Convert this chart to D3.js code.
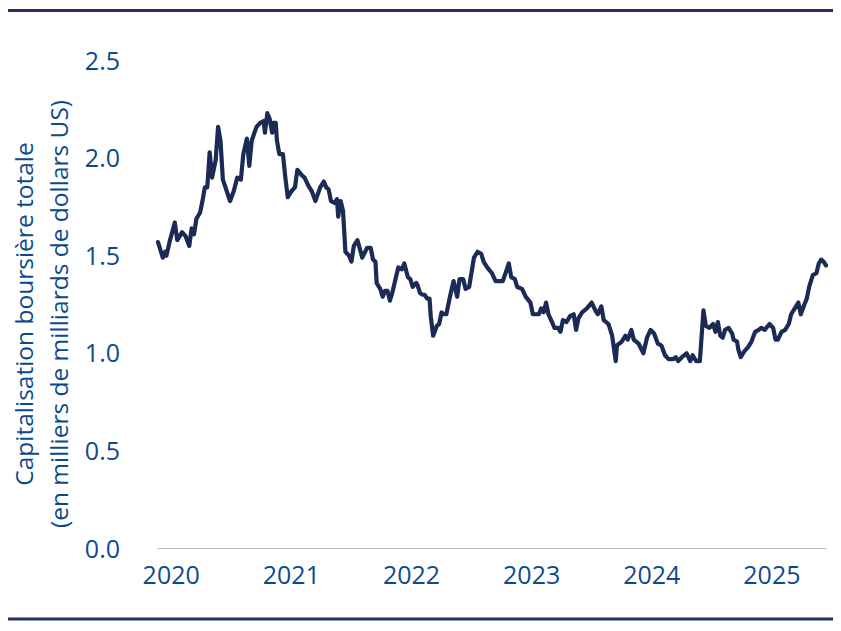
<!DOCTYPE html>
<meta charset="utf-8">
<style>
    body { margin: 0; background: #fff; }
    text { font-family: "Open Sans", sans-serif; fill: #0c4a8e; }
</style>
<body>

<svg width="841" height="631"></svg>

<script src="https://cdn.jsdelivr.net/npm/d3@7/dist/d3.min.js"></script>

<script>

    var years = [
        2019.89, 2019.93, 2019.95, 2019.96, 2019.99, 2020.03, 2020.05, 2020.09, 2020.12, 2020.15,
        2020.17, 2020.19, 2020.21, 2020.24, 2020.26, 2020.28, 2020.30, 2020.32, 2020.34, 2020.37,
        2020.39, 2020.41, 2020.43, 2020.49, 2020.52, 2020.55, 2020.58, 2020.60, 2020.63, 2020.65,
        2020.67, 2020.71, 2020.74, 2020.77, 2020.78, 2020.80, 2020.82, 2020.84, 2020.85, 2020.87,
        2020.88, 2020.90, 2020.93, 2020.95, 2020.97, 2021.00, 2021.03, 2021.05, 2021.09, 2021.11,
        2021.14, 2021.17, 2021.20, 2021.24, 2021.27, 2021.29, 2021.31, 2021.33, 2021.36, 2021.38,
        2021.39, 2021.41, 2021.43, 2021.45, 2021.48, 2021.50, 2021.52, 2021.55, 2021.59, 2021.63,
        2021.66, 2021.68, 2021.70, 2021.71, 2021.74, 2021.76, 2021.78, 2021.80, 2021.82, 2021.84,
        2021.89, 2021.92, 2021.94, 2021.97, 2021.99, 2022.01, 2022.04, 2022.05, 2022.07, 2022.09,
        2022.11, 2022.13, 2022.15, 2022.16, 2022.18, 2022.21, 2022.23, 2022.25, 2022.27, 2022.29,
        2022.32, 2022.35, 2022.38, 2022.40, 2022.43, 2022.45, 2022.48, 2022.52, 2022.55, 2022.58,
        2022.60, 2022.63, 2022.67, 2022.70, 2022.74, 2022.76, 2022.81, 2022.83, 2022.86, 2022.88,
        2022.92, 2022.95, 2022.99, 2023.01, 2023.06, 2023.08, 2023.10, 2023.12, 2023.14, 2023.17,
        2023.19, 2023.22, 2023.24, 2023.26, 2023.29, 2023.32, 2023.35, 2023.37, 2023.39, 2023.42,
        2023.46, 2023.50, 2023.53, 2023.55, 2023.58, 2023.60, 2023.64, 2023.67, 2023.70, 2023.71,
        2023.75, 2023.78, 2023.80, 2023.83, 2023.85, 2023.89, 2023.93, 2023.96, 2023.99, 2024.02,
        2024.05, 2024.08, 2024.11, 2024.14, 2024.18, 2024.20, 2024.22, 2024.25, 2024.29, 2024.32,
        2024.34, 2024.37, 2024.40, 2024.43, 2024.45, 2024.48, 2024.51, 2024.53, 2024.55, 2024.57,
        2024.59, 2024.61, 2024.64, 2024.67, 2024.68, 2024.71, 2024.72, 2024.74, 2024.77, 2024.80,
        2024.83, 2024.86, 2024.89, 2024.91, 2024.94, 2024.98, 2025.01, 2025.03, 2025.05, 2025.08,
        2025.11, 2025.14, 2025.16, 2025.19, 2025.22, 2025.24, 2025.27, 2025.29, 2025.31, 2025.34,
        2025.37, 2025.39, 2025.41, 2025.43, 2025.45
    ];

    // Total market capitalisation, trillions of US dollars
    var values = [
        1.57, 1.49, 1.52, 1.50, 1.58, 1.67, 1.58, 1.62, 1.60, 1.55,
        1.64, 1.61, 1.69, 1.72, 1.78, 1.85, 1.85, 2.03, 1.90, 1.99,
        2.16, 2.09, 1.89, 1.78, 1.83, 1.90, 1.89, 2.02, 2.10, 1.96,
        2.09, 2.16, 2.18, 2.19, 2.13, 2.23, 2.20, 2.13, 2.18, 2.18,
        2.09, 2.02, 2.02, 1.90, 1.80, 1.83, 1.85, 1.94, 1.91, 1.90,
        1.86, 1.83, 1.78, 1.85, 1.88, 1.85, 1.84, 1.78, 1.77, 1.79,
        1.70, 1.78, 1.73, 1.52, 1.50, 1.47, 1.55, 1.58, 1.49, 1.54,
        1.54, 1.48, 1.47, 1.36, 1.33, 1.29, 1.32, 1.32, 1.27, 1.31,
        1.44, 1.43, 1.46, 1.39, 1.38, 1.34, 1.36, 1.35, 1.31, 1.30,
        1.30, 1.28, 1.28, 1.19, 1.09, 1.14, 1.15, 1.21, 1.20, 1.20,
        1.29, 1.37, 1.29, 1.38, 1.38, 1.33, 1.34, 1.49, 1.52, 1.51,
        1.47, 1.44, 1.41, 1.37, 1.37, 1.37, 1.46, 1.39, 1.38, 1.34,
        1.33, 1.29, 1.26, 1.20, 1.20, 1.23, 1.21, 1.26, 1.20, 1.16,
        1.13, 1.13, 1.11, 1.17, 1.16, 1.19, 1.20, 1.12, 1.18, 1.21,
        1.23, 1.26, 1.22, 1.20, 1.24, 1.17, 1.15, 1.09, 0.96, 1.04,
        1.06, 1.09, 1.07, 1.12, 1.07, 1.05, 1.00, 1.08, 1.12, 1.10,
        1.05, 1.04, 0.99, 0.97, 0.97, 0.98, 0.96, 0.98, 1.00, 0.96,
        0.99, 0.96, 0.96, 1.22, 1.14, 1.13, 1.15, 1.11, 1.16, 1.09,
        1.08, 1.12, 1.13, 1.10, 1.07, 1.06, 1.02, 0.98, 1.01, 1.03,
        1.06, 1.11, 1.12, 1.13, 1.12, 1.15, 1.13, 1.07, 1.07, 1.11,
        1.12, 1.15, 1.20, 1.23, 1.26, 1.20, 1.25, 1.28, 1.34, 1.40,
        1.41, 1.46, 1.48, 1.47, 1.45
    ];

    var xTicks = [2020, 2021, 2022, 2023, 2024, 2025];
    var yTicks = [0, 0.5, 1, 1.5, 2, 2.5];
    var titleLines = ["Capitalisation boursière totale", "(en milliers de milliards de dollars US)"];

    var svg = d3.select("svg");

    var W = +svg.attr("width"),
        H = +svg.attr("height");

    var margin = {top: 60.5, right: 15, bottom: 82.5, left: 158};

    var data = years.map(function (d, i) {
        return {year: d, value: values[i]};
    });

    // Scales
    var x = d3.scaleLinear()
        .domain([years[0], years[years.length - 1]])
        .range([margin.left, W - margin.right]);

    var y = d3.scaleLinear()
        .domain([0, 2.5])
        .range([H - margin.bottom, margin.top]);

    // Top and bottom rules
    svg.append("line")
        .attr("x1", 8).attr("x2", 833)
        .attr("y1", 10.5).attr("y2", 10.5)
        .attr("stroke", "#25335a")
        .attr("stroke-width", 3);

    svg.append("line")
        .attr("x1", 8).attr("x2", 833)
        .attr("y1", 619).attr("y2", 619)
        .attr("stroke", "#25335a")
        .attr("stroke-width", 3);

    // Baseline
    svg.append("line")
        .attr("x1", x.range()[0]).attr("x2", x.range()[1])
        .attr("y1", y(0)).attr("y2", y(0))
        .attr("stroke", "#bdbdbd")
        .attr("stroke-width", 1.2);

    // Y tick labels
    svg.append("g")
        .selectAll("text")
        .data(yTicks)
        .enter().append("text")
        .attr("x", 120)
        .attr("y", function (d) { return y(d); })
        .attr("dy", "0.36em")
        .attr("text-anchor", "end")
        .style("font-size", "25px")
        .text(d3.format(".1f"));

    // X tick labels
    svg.append("g")
        .selectAll("text")
        .data(xTicks)
        .enter().append("text")
        .attr("x", function (d) { return x(d); })
        .attr("y", y(0) + 35)
        .attr("text-anchor", "middle")
        .style("font-size", "25px")
        .text(function (d) { return d; });

    // Y axis title, two lines
    svg.append("g")
        .attr("transform", "translate(0,314) rotate(-90)")
        .selectAll("text")
        .data(titleLines)
        .enter().append("text")
        .attr("x", 0)
        .attr("y", function (d, i) { return 33 + i * 35; })
        .attr("text-anchor", "middle")
        .style("font-size", "24.5px")
        .text(function (d) { return d; });

    // The line
    var line = d3.line()
        .x(function (d) { return x(d.year); })
        .y(function (d) { return y(d.value); });

    svg.append("path")
        .datum(data)
        .attr("fill", "none")
        .attr("stroke", "#1b2b55")
        .attr("stroke-width", 4.2)
        .attr("stroke-linejoin", "round")
        .attr("stroke-linecap", "round")
        .attr("d", line);

</script>
</body>
